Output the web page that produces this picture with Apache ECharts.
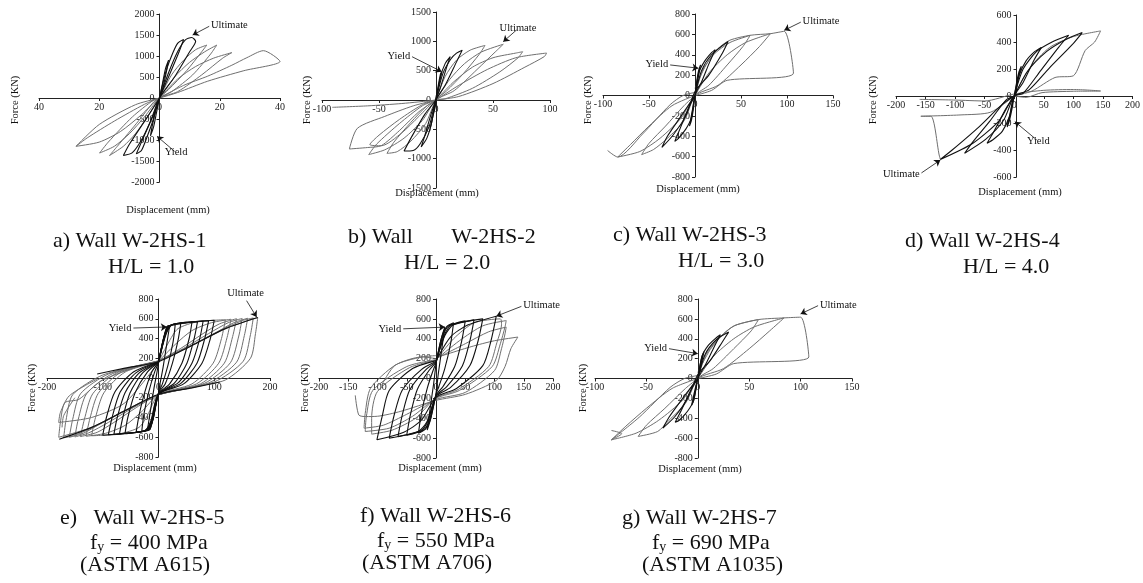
<!DOCTYPE html>
<html>
<head>
<meta charset="utf-8">
<script src="https://cdn.jsdelivr.net/npm/echarts@6/dist/echarts.min.js"></script>
<style>
  html, body { margin: 0; padding: 0; background: #fff; }
  #chart { width: 1143px; height: 583px; }
</style>
</head>
<body>
<div id="chart"></div>
<script>
// ---- axis ranges: [min, max, interval]
const w1X = [-40, 40, 20], w1Y = [-2000, 2000, 500];
const w2X = [-100, 100, 50], w2Y = [-1500, 1500, 500];
const w3X = [-100, 150, 50], w3Y = [-800, 800, 200];
const w4X = [-200, 200, 50], w4Y = [-600, 600, 200];
const w5X = [-200, 200, 100], w5Y = [-800, 800, 200];
const w6X = [-200, 200, 50], w6Y = [-800, 800, 200];
const w7X = [-100, 150, 50], w7Y = [-800, 800, 200];

// ---- hysteresis loops [displacement mm, force kN]
const w1Black = [
  [[0,0],[1,350],[2,700],[3,900],[2.5,700],[1,200],[0,0],[-1,-350],[-2,-700],[-3,-900],[-2.5,-700],[-1,-200],[0,0]],
  [[0,0],[2,600],[4,1000],[6,1300],[8,1390],[6.5,1100],[3,500],[0,0],[-2,-500],[-4,-900],[-6,-1250],[-7.7,-1330],[-6,-1050],[-2,-400],[0,0]],
  [[0,0],[3,600],[6,1100],[8.5,1380],[10.7,1440],[12,1350],[10,1100],[5,500],[0,0],[-3,-550],[-6,-1000],[-9,-1300],[-12,-1370],[-10,-1100],[-4,-450],[0,0]]
];
const w1Gray = [
  [[0,0],[4,550],[8,900],[12,1150],[15.7,1260],[14,1100],[9,650],[3,200],[0,0],[-4,-450],[-8,-850],[-12,-1150],[-16.6,-1370],[-14,-1150],[-7,-550],[-2,-100],[0,0]],
  [[0,0],[5,500],[10,850],[15,1100],[19,1260],[17,1050],[11,550],[4,150],[0,0],[-5,-450],[-10,-850],[-15,-1150],[-19.9,-1310],[-17,-1050],[-9,-450],[-2,-50],[0,0]],
  [[0,0],[6,450],[12,750],[18,950],[24,1080],[21,950],[14,550],[6,150],[0,0],[-6,-400],[-13,-800],[-20,-1050],[-27.7,-1150],[-24,-950],[-15,-550],[-5,-150],[0,0]],
  [[0,0],[8,300],[16,520],[24,780],[29,960],[34.5,1127],[40,870],[28,650],[16,400],[6,130],[0,0],[-8,-160],[-20,-630],[-27.7,-1150]]
];
const w2Black = [
  [[0,0],[2,250],[4,450],[5,480],[3,300],[0,50],[-2,-200],[-4,-400],[-5,-480],[-3,-300],[0,-30],[0,0]],
  [[0,0],[4,400],[8,620],[12.5,740],[10,600],[4,220],[0,0],[-4,-400],[-8,-650],[-13,-800],[-10,-620],[-4,-220],[0,0]],
  [[0,0],[6,450],[13,700],[18,800],[23,850],[18,650],[8,250],[0,0],[-6,-450],[-14,-750],[-20,-860],[-28,-870],[-22,-650],[-10,-250],[0,0]]
];
const w2Gray = [
  [[0,0],[8,400],[18,680],[30,850],[43,930],[38,780],[24,450],[9,150],[0,0],[-9,-400],[-22,-700],[-34,-880],[-43,-910],[-37,-720],[-22,-380],[-8,-100],[0,0]],
  [[0,0],[12,350],[25,620],[40,820],[59,950],[52,820],[36,520],[16,160],[0,0],[-12,-350],[-28,-650],[-45,-850],[-59,-930],[-52,-750],[-32,-400],[-12,-100],[0,0]],
  [[0,0],[15,300],[32,560],[50,720],[70,800],[76,823],[72,720],[56,480],[32,200],[8,20],[0,0],[-15,-280],[-30,-560],[-48,-780],[-58,-760],[-50,-600],[-32,-330],[-12,-80],[0,0]],
  [[0,0],[20,250],[45,520],[70,720],[97,800],[95,740],[78,560],[50,280],[20,60],[0,0],[-30,-60],[-60,-100],[-91,-125]],
  [[0,0],[-20,-100],[-45,-280],[-69,-483],[-76,-835],[-60,-810],[-48,-778],[-32,-520],[-15,-200],[0,0]]
];
const w3Black = [
  [[0,0],[2,150],[4,250],[6,300],[4,200],[1,50],[0,0],[-2,-150],[-4,-250],[-6,-300],[-4,-200],[-1,-50],[0,0]],
  [[0,0],[4,220],[10,330],[18,420],[22,450],[16,330],[7,130],[0,0],[-4,-220],[-10,-330],[-18,-420],[-22,-450],[-16,-320],[-7,-120],[0,0]],
  [[0,0],[7,240],[18,400],[36,530],[30,420],[15,200],[0,40],[-10,-200],[-24,-390],[-36,-510],[-30,-400],[-15,-200],[0,0]]
];
const w3Gray = [
  [[0,0],[8,240],[20,400],[38,520],[60,590],[52,480],[35,300],[15,100],[0,0],[-12,-250],[-30,-420],[-45,-530],[-58,-580],[-50,-470],[-32,-300],[-12,-100],[0,0]],
  [[0,0],[15,220],[35,400],[55,520],[82,607],[70,480],[50,300],[25,100],[0,0],[-15,-220],[-38,-420],[-60,-550],[-84,-604],[-70,-480],[-50,-300],[-25,-100],[0,0]],
  [[0,70],[12,300],[25,460],[38,543],[60,591],[82,607],[97,630],[107,220],[35,149],[18,50],[0,0]],
  [[0,30],[-13,0],[-27,-90],[-57,-378],[-84,-604],[-95,-540]]
];
const w4Black = [
  [[0,0],[4,100],[8,180],[12,220],[8,150],[3,40],[0,0],[-4,-100],[-8,-180],[-12,-230],[-8,-150],[-3,-40],[0,0]],
  [[0,0],[8,150],[20,260],[35,330],[46,360],[34,270],[15,100],[0,0],[-8,-150],[-20,-260],[-35,-320],[-46,-350],[-34,-260],[-15,-100],[0,0]],
  [[0,0],[15,200],[38,330],[64,400],[92,450],[75,360],[45,190],[15,20],[0,0],[-18,-180],[-48,-320],[-84,-425],[-70,-340],[-42,-190],[-14,-30],[0,0]],
  [[0,0],[22,180],[55,330],[88,420],[115,470],[98,380],[60,210],[25,45],[0,0],[-25,-180],[-70,-350],[-125,-470],[-105,-400],[-60,-230],[-20,-60],[0,0]]
];
const w4Gray = [
  [[0,0],[25,200],[60,360],[100,440],[146,482],[136,400],[120,337],[100,150],[69,137],[30,37],[0,0]],
  [[0,0],[20,-10],[47,25],[100,35],[146,37],[100,48],[50,42],[0,15],[-50,-37],[-100,-30],[-160,-25]],
  [[0,0],[-40,-120],[-90,-140],[-158,-150],[-141,-150],[-127,-437],[-125,-470]]
];
const w5Black = [
  [[0,150],[8,350],[15,520],[20,530],[15,350],[8,100],[3,-50],[0,-150],[-8,-350],[-15,-520],[-20,-530],[-15,-350],[-8,-100],[-3,50],[0,150]],
  [[0,152],[9,400],[16,522],[30,540],[26,360],[17,130],[7,-60],[0,-152],[-9,-400],[-16,-522],[-30,-538],[-26,-360],[-17,-130],[-7,60],[0,152]],
  [[0,155],[10,420],[18,525],[40,550],[35,380],[25,150],[12,-60],[0,-155],[-10,-420],[-18,-525],[-40,-545],[-35,-380],[-25,-150],[-12,60],[0,155]],
  [[0,160],[10,420],[20,530],[60,565],[55,400],[42,150],[20,-60],[0,-160],[-10,-420],[-20,-530],[-60,-560],[-55,-400],[-42,-150],[-20,60],[0,160]],
  [[0,160],[11,430],[21,532],[45,558],[70,570],[64,400],[51,150],[28,-55],[0,-162],[-11,-425],[-21,-530],[-45,-552],[-70,-565],[-64,-400],[-51,-150],[-28,55],[0,160]],
  [[0,160],[12,440],[22,535],[50,560],[80,575],[74,400],[60,150],[35,-50],[0,-165],[-12,-430],[-22,-530],[-50,-555],[-80,-570],[-74,-400],[-60,-150],[-35,50],[0,160]],
  [[0,162],[13,445],[24,538],[55,566],[90,580],[83,400],[69,150],[40,-55],[0,-165],[-13,-435],[-24,-532],[-55,-560],[-90,-575],[-83,-395],[-69,-145],[-40,55],[0,162]],
  [[0,165],[14,450],[25,540],[60,570],[100,585],[93,400],[78,150],[45,-60],[0,-165],[-14,-440],[-25,-535],[-60,-565],[-100,-580],[-93,-390],[-78,-140],[-45,60],[0,165]],
  [[-110,40],[-60,100],[0,165],[60,330],[120,500],[178,612]],
  [[-178,-620],[-120,-500],[-60,-330],[0,-165],[60,-100],[110,-40]]
];
const w5Gray = [
  [[0,165],[20,380],[35,500],[70,570],[120,590],[113,400],[98,150],[60,-60],[0,-170],[-20,-380],[-35,-500],[-70,-565],[-120,-585],[-113,-400],[-98,-150],[-60,60],[0,165]],
  [[0,168],[30,340],[60,480],[95,560],[130,595],[123,410],[108,150],[68,-60],[0,-170],[-30,-340],[-60,-480],[-95,-560],[-130,-590],[-123,-410],[-108,-155],[-68,55],[0,168]],
  [[0,170],[40,300],[80,450],[110,550],[140,600],[133,420],[118,150],[75,-60],[0,-170],[-40,-300],[-80,-450],[-110,-550],[-140,-593],[-133,-420],[-118,-160],[-75,50],[0,170]],
  [[0,170],[45,300],[90,450],[125,560],[150,603],[144,425],[129,155],[82,-55],[0,-170],[-45,-300],[-90,-450],[-125,-555],[-150,-597],[-144,-420],[-129,-160],[-82,45],[0,170]],
  [[0,170],[50,300],[100,450],[135,560],[160,605],[154,430],[140,160],[90,-50],[0,-170],[-50,-300],[-100,-450],[-135,-560],[-160,-600],[-154,-420],[-140,-160],[-90,40],[0,170]],
  [[0,172],[55,320],[110,480],[150,580],[170,608],[165,440],[152,170],[100,-40],[0,-170],[-55,-320],[-110,-480],[-150,-580],[-170,-605],[-166,-430],[-154,-170],[-100,30],[0,172]],
  [[0,175],[60,330],[120,500],[178,612],[174,450],[165,200],[120,-20],[60,-90],[0,-170],[-60,-330],[-120,-500],[-179,-600],[-176,-450],[-168,-250],[-143,-217],[-104,-33],[-45,100],[0,175]],
  [[0,160],[-60,-250],[-120,-400],[-179,-450],[-176,-350],[-160,-180],[-110,-10]],
  [[-173,-500],[-170,-380],[-150,-200]]
];
const w6Black = [
  [[0,150],[8,380],[15,520],[10,300],[4,50],[0,-150],[-8,-380],[-15,-520],[-10,-300],[-4,-50],[0,150]],
  [[0,150],[10,420],[18,520],[30,560],[25,350],[15,100],[5,-80],[0,-160],[-10,-420],[-18,-510],[-30,-550],[-25,-350],[-15,-100],[-5,80],[0,150]],
  [[0,160],[12,430],[22,530],[50,580],[44,380],[32,120],[12,-80],[0,-170],[-12,-430],[-22,-520],[-50,-570],[-44,-370],[-32,-110],[-12,80],[0,160]],
  [[0,165],[14,430],[26,535],[65,590],[58,380],[45,125],[18,-85],[0,-175],[-14,-430],[-26,-525],[-65,-585],[-58,-375],[-45,-115],[-18,85],[0,165]],
  [[0,170],[15,430],[30,540],[80,600],[72,380],[58,130],[25,-90],[0,-180],[-15,-430],[-30,-530],[-80,-600],[-72,-380],[-58,-120],[-25,90],[0,170]],
  [[0,180],[25,420],[55,540],[103,627],[94,380],[80,130],[35,-100],[0,-190],[-25,-420],[-55,-540],[-101,-617],[-92,-380],[-80,-120],[-40,100],[0,180]]
];
const w6Gray = [
  [[0,185],[30,400],[65,560],[110,600],[112,540],[104,360],[90,120],[38,-110],[0,-195],[-35,-400],[-75,-520],[-110,-560],[-110,-400],[-100,-130],[-45,110],[0,185]],
  [[0,190],[40,380],[80,530],[120,583],[118,520],[110,350],[96,120],[40,-120],[0,-200],[-40,-380],[-80,-500],[-121,-533],[-119,-380],[-108,-120],[-50,120],[0,190]],
  [[0,200],[50,350],[90,470],[120,517],[118,450],[112,300],[100,80],[50,-140],[0,-210],[-50,-360],[-90,-470],[-123,-500],[-121,-350],[-112,-100],[-70,133],[-24,217],[0,200]],
  [[0,210],[60,320],[100,380],[140,417],[128,300],[118,120],[103,-20],[50,-160],[0,-220],[-60,-330],[-100,-380],[-120,-383],[-132,-367],[-138,-170]],
  [[-93,-67],[-70,133],[-24,217],[0,230]]
];
const w7Black = [
  [[0,0],[2,120],[4,220],[6,270],[4,170],[1,40],[0,0],[-2,-120],[-4,-220],[-6,-270],[-4,-170],[-1,-40],[0,0]],
  [[0,0],[4,220],[10,330],[18,410],[22,440],[16,320],[7,130],[0,0],[-4,-220],[-10,-330],[-18,-420],[-22,-440],[-16,-320],[-7,-120],[0,0]],
  [[0,0],[7,240],[18,390],[30,467],[24,370],[12,180],[0,40],[-10,-200],[-22,-380],[-34,-500],[-28,-390],[-14,-190],[0,0]]
];
const w7Gray = [
  [[0,0],[8,240],[20,400],[36,533],[59,593],[52,480],[35,300],[15,100],[0,0],[-12,-250],[-28,-420],[-39,-533],[-58,-583],[-50,-470],[-32,-300],[-12,-100],[0,0]],
  [[0,0],[15,220],[35,400],[55,520],[84,610],[70,480],[50,300],[25,100],[0,0],[-15,-220],[-38,-420],[-60,-550],[-84,-617],[-70,-480],[-50,-300],[-25,-100],[0,0]],
  [[0,60],[12,290],[25,450],[36,533],[59,593],[84,610],[100,617],[108,217],[35,150],[18,45],[0,0]],
  [[0,30],[-13,0],[-27,-90],[-57,-390],[-84,-617],[-74,-556],[-84,-523]]
];

// ---- annotation arrows [label start, arrow tip]
const w1Ultimate = [[16.5,1707],[11,1500]], w1Yield = [[5,-1270],[-0.8,-913]];
const w2Ultimate = [[70.6,1193],[59,994]], w2Yield = [[-21,738],[5,483]];
const w3Ultimate = [[115,720],[97,640]], w3Yield = [[-27,300],[3.6,268]];
const w4Ultimate = [[-157,-570],[-125,-474]], w4Yield = [[38,-325],[1,-190]];
const w5Ultimate = [[158,783],[176,617]], w5Yield = [[-45,506],[15,517]];
const w6Ultimate = [[146,726],[103,627]], w6Yield = [[-56,500],[15,517]];
const w7Ultimate = [[117,733],[100,650]], w7Yield = [[-28,300],[0,250]];

const SERIF = '"Liberation Serif", "Times New Roman", serif';
const INK = '#111111';
const GREY = '#6f6f6f';

const panels = [
  { box: [39, 14, 241, 168], x: w1X, y: w1Y, black: w1Black, gray: w1Gray, ult: w1Ultimate, yld: w1Yield, absX: true },
  { box: [322, 12, 228, 176], x: w2X, y: w2Y, black: w2Black, gray: w2Gray, ult: w2Ultimate, yld: w2Yield },
  { box: [603, 14, 230, 163], x: w3X, y: w3Y, black: w3Black, gray: w3Gray, ult: w3Ultimate, yld: w3Yield },
  { box: [896, 15, 241, 162], x: w4X, y: w4Y, black: w4Black, gray: w4Gray, ult: w4Ultimate, yld: w4Yield },
  { box: [47, 299, 223, 158], x: w5X, y: w5Y, black: w5Black, gray: w5Gray, ult: w5Ultimate, yld: w5Yield },
  { box: [319, 299, 234, 159], x: w6X, y: w6Y, black: w6Black, gray: w6Gray, ult: w6Ultimate, yld: w6Yield },
  { box: [595, 299, 257, 159], x: w7X, y: w7Y, black: w7Black, gray: w7Gray, ult: w7Ultimate, yld: w7Yield }
];

const grid = [], xAxis = [], yAxis = [], series = [];
panels.forEach((p, i) => {
  const [gl, gt, gw, gh] = p.box;
  grid.push({ left: gl, top: gt, width: gw, height: gh, show: false });
  // axes cross at the origin: shift them inward by the pixel distance to zero
  const xShift = gw * (0 - p.x[0]) / (p.x[1] - p.x[0]);
  const yShift = gh * (0 - p.y[0]) / (p.y[1] - p.y[0]);
  const axisBase = {
    type: 'value', gridIndex: i,
    axisLine: { onZero: false, lineStyle: { color: '#222', width: 1 } },
    axisTick: { length: 3, lineStyle: { color: '#222' } },
    splitLine: { show: false }
  };
  const xLabel = { fontFamily: SERIF, fontSize: 10, color: '#222', margin: 4, showMinLabel: true, showMaxLabel: true,
    formatter: p.absX ? (v => String(Math.abs(v))) : (v => String(v)) };
  xAxis.push(Object.assign({}, axisBase, {
    position: 'bottom', offset: -yShift,
    min: p.x[0], max: p.x[1], interval: p.x[2], axisLabel: xLabel
  }));
  yAxis.push(Object.assign({}, axisBase, {
    position: 'left', offset: -xShift,
    min: p.y[0], max: p.y[1], interval: p.y[2],
    axisLabel: { fontFamily: SERIF, fontSize: 10, color: '#222', margin: 5, showMinLabel: true, showMaxLabel: true,
      formatter: v => String(v) }
  }));
  const line = (data, color, w, z) => ({
    type: 'line', xAxisIndex: i, yAxisIndex: i, data: data,
    symbol: 'none', smooth: 0.25, z: z, silent: true,
    lineStyle: { color: color, width: w }
  });
  p.gray.forEach(d => series.push(line(d, GREY, 1, 2)));
  p.black.forEach(d => series.push(line(d, INK, 1.1, 3)));
  // arrows with labels
  series.push({
    type: 'line', xAxisIndex: i, yAxisIndex: i, data: [], silent: true,
    markLine: {
      silent: true, symbol: ['none', 'arrow'], symbolSize: 6, animation: false,
      lineStyle: { color: '#111', width: 0.8, type: 'solid' },
      label: { show: true, position: 'start', formatter: '{b}', fontFamily: SERIF, fontSize: 10.5, color: '#111', distance: 2 },
      data: [
        [{ coord: p.ult[0], name: 'Ultimate' }, { coord: p.ult[1] }],
        [{ coord: p.yld[0], name: 'Yield' }, { coord: p.yld[1] }]
      ]
    }
  });
});

// axis titles and captions
const txt = (x, y, text, size, extra) => Object.assign({
  type: 'text', x: x, y: y, silent: true,
  style: { text: text, font: size + 'px ' + SERIF, fill: '#111', textAlign: 'center', textVerticalAlign: 'middle' }
}, extra || {});
const yNames = [[15, 100], [307, 100], [588, 100], [873, 100], [32, 388], [305, 388], [583, 388]];
const xNames = [[168, 210], [437, 193], [698, 189], [1020, 192], [155, 468], [440, 468], [700, 469]];
const graphic = [];
yNames.forEach(c => graphic.push(txt(c[0], c[1], 'Force (KN)', 10.5, { rotation: Math.PI / 2 })));
xNames.forEach(c => graphic.push(txt(c[0], c[1], 'Displacement (mm)', 10.5)));

const cap = (x, y, text) => ({
  type: 'text', x: x, y: y, silent: true,
  style: {
    text: text, font: '22px ' + SERIF, fill: '#111', textAlign: 'left', textVerticalAlign: 'middle',
    rich: { s: { fontSize: 14, fontFamily: SERIF, verticalAlign: 'bottom', fill: '#111' } }
  }
});
[
  [53, 241, 'a) Wall W-2HS-1'], [108, 267, 'H/L = 1.0'],
  [348, 237, 'b) Wall       W-2HS-2'], [404, 263, 'H/L = 2.0'],
  [613, 235, 'c) Wall W-2HS-3'], [678, 261, 'H/L = 3.0'],
  [905, 241, 'd) Wall W-2HS-4'], [963, 267, 'H/L = 4.0'],
  [60, 518, 'e)   Wall W-2HS-5'], [90, 543, 'f{s|y} = 400 MPa'], [80, 565, '(ASTM A615)'],
  [360, 516, 'f) Wall W-2HS-6'], [377, 541, 'f{s|y} = 550 MPa'], [362, 563, '(ASTM A706)'],
  [622, 518, 'g) Wall W-2HS-7'], [652, 543, 'f{s|y} = 690 MPa'], [642, 565, '(ASTM A1035)']
].forEach(c => graphic.push(cap(c[0], c[1], c[2])));

const chart = echarts.init(document.getElementById('chart'), null, { renderer: 'canvas' });
chart.setOption({
  backgroundColor: '#fff',
  animation: false,
  grid: grid,
  xAxis: xAxis,
  yAxis: yAxis,
  series: series,
  graphic: graphic
});
</script>
</body>
</html>
